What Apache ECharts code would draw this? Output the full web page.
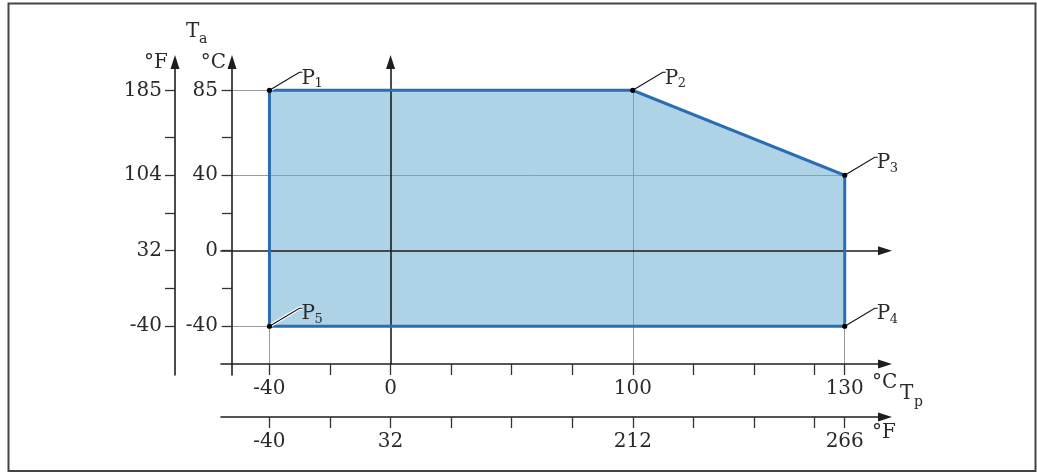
<!DOCTYPE html>
<html><head><meta charset="utf-8">
<script src="https://cdn.jsdelivr.net/npm/echarts@6/dist/echarts.min.js"></script>
<style>html,body{margin:0;padding:0;background:#fff}#c{width:1037px;height:473px}</style>
</head><body><div id="c"></div>
<script>
// ---- data ----
const pointNames = ['1', '2', '3', '4', '5'];
const pointTp = [-40, 100, 130, 130, -40];   // process temperature, °C
const pointTa = [85, 85, 40, -40, -40];      // ambient temperature, °C
const xLabelsC = [-40, 0, 100, 130];
const xLabelsF = [-40, 32, 212, 266];
const yLabelsC = [85, 40, 0, -40];
const yLabelsF = [185, 104, 32, -40];
const yMinorC = [60, 20, -20];
// schematic (not to scale) Tp axis: anchor temperatures and their slot positions
const axisAnchorsC = [-40, 0, 100, 130];
const axisAnchorsSlot = [-2, 0, 4, 7.5];
const xTickSlots = [-2, -1, 0, 1, 2, 3, 4, 5, 6, 7, 7.5];

// ---- helpers ----
function toSlot(c) {
  for (let i = 0; i < axisAnchorsC.length - 1; i++) {
    const a = axisAnchorsC[i], b = axisAnchorsC[i + 1];
    if (c <= b || i === axisAnchorsC.length - 2) {
      return axisAnchorsSlot[i] + (c - a) / (b - a) * (axisAnchorsSlot[i + 1] - axisAnchorsSlot[i]);
    }
  }
}
const cToF = c => c * 9 / 5 + 32;

const FONT = '"DejaVu Serif", serif';
const TXT = '#2a2a2a';
const AX = '#1e1e1e';
const X_MIN = -2.8, X_MAX = 8.165;
const Y_MIN = -60, Y_MAX = 100;
const Y_MIN_B = -65.83;

const xLabelSlots = xLabelsC.map(toSlot);
function labelFor(list) {
  return function (v) {
    for (let i = 0; i < xLabelSlots.length; i++) {
      if (Math.abs(xLabelSlots[i] - v) < 1e-6) return String(list[i]);
    }
    return '';
  };
}

const polyPts = pointTp.map((t, i) => [toSlot(t), pointTa[i]]);
const outline = polyPts.concat([polyPts[0]]);

const arrowLine = {
  show: true, onZero: false,
  symbol: ['none', 'triangle'], symbolSize: [9, 14],
  lineStyle: { color: AX, width: 1.6 }
};

const option = {
  animation: false,
  backgroundColor: '#fff',
  grid: [
    { left: 221, right: 152, top: 62, bottom: 109 },
    { left: 232, right: 152, top: 62, bottom: 98 }
  ],
  xAxis: [
    { // °C Tp axis
      type: 'value', gridIndex: 0, position: 'bottom', min: X_MIN, max: X_MAX, z: 3,
      axisLine: arrowLine,
      splitLine: { show: false },
      axisTick: { show: true, customValues: xTickSlots, length: 11, lineStyle: { color: '#333', width: 1.3 } },
      axisLabel: { show: true, customValues: xLabelSlots, formatter: labelFor(xLabelsC), margin: 15,
        fontFamily: FONT, fontSize: 20, color: TXT }
    },
    { // °F Tp axis
      type: 'value', gridIndex: 0, position: 'bottom', offset: 53, min: X_MIN, max: X_MAX, z: 3,
      axisLine: arrowLine,
      splitLine: { show: false },
      axisTick: { show: true, customValues: xTickSlots, length: 11, lineStyle: { color: '#333', width: 1.3 } },
      axisLabel: { show: true, customValues: xLabelSlots, formatter: labelFor(xLabelsF), margin: 15,
        fontFamily: FONT, fontSize: 20, color: TXT }
    },
    { // zero line of Ta
      type: 'value', gridIndex: 0, position: 'bottom', min: X_MIN, max: X_MAX, z: 3,
      axisLine: Object.assign({}, arrowLine, { onZero: true }),
      splitLine: { show: false }, axisTick: { show: false }, axisLabel: { show: false }
    },
    { type: 'value', gridIndex: 1, show: false, min: X_MIN, max: X_MAX }
  ],
  yAxis: [
    { // vertical line at Tp = 0
      type: 'value', gridIndex: 0, position: 'left', min: Y_MIN, max: Y_MAX, z: 3,
      axisLine: Object.assign({}, arrowLine, { onZero: true }),
      splitLine: { show: false }, axisTick: { show: false }, axisLabel: { show: false }
    },
    { // Ta °C
      type: 'value', gridIndex: 1, position: 'left', min: Y_MIN_B, max: Y_MAX, z: 3,
      axisLine: arrowLine,
      splitLine: { show: false },
      axisTick: { show: true, customValues: yLabelsC.concat(yMinorC), length: 10, lineStyle: { color: '#333', width: 1.3 } },
      axisLabel: { show: true, customValues: yLabelsC, margin: 14, fontFamily: FONT, fontSize: 20, color: TXT }
    },
    { // Ta °F
      type: 'value', gridIndex: 1, position: 'left', offset: 57, min: cToF(Y_MIN_B), max: cToF(Y_MAX), z: 3,
      axisLine: arrowLine,
      splitLine: { show: false },
      axisTick: { show: true, customValues: yLabelsF.concat(yMinorC.map(cToF)), length: 10, lineStyle: { color: '#333', width: 1.3 } },
      axisLabel: { show: true, customValues: yLabelsF, margin: 13, fontFamily: FONT, fontSize: 20, color: TXT }
    }
  ],
  series: [
    { // filled operating area
      type: 'custom', xAxisIndex: 0, yAxisIndex: 0, z: 1, silent: true,
      data: [[0, 0]],
      renderItem: function (params, api) {
        return {
          type: 'polygon',
          shape: { points: polyPts.map(p => api.coord(p)) },
          style: { fill: '#aed3e6', stroke: null }
        };
      }
    },
    { // thin gray reference lines
      type: 'lines', coordinateSystem: 'cartesian2d', xAxisIndex: 0, yAxisIndex: 0, z: 2, silent: true,
      lineStyle: { color: '#9a9a9a', width: 1, opacity: 1, type: 'solid' },
      data: [
        { coords: [[X_MIN, pointTa[0]], polyPts[0]] },
        { coords: [[X_MIN, pointTa[2]], polyPts[2]] },
        { coords: [[X_MIN, pointTa[4]], polyPts[4]] },
        { coords: [polyPts[1], [polyPts[1][0], Y_MIN]] },
        { coords: [polyPts[3], [polyPts[3][0], Y_MIN]] },
        { coords: [polyPts[4], [polyPts[4][0], Y_MIN]] }
      ]
    },
    { // outline
      type: 'line', xAxisIndex: 0, yAxisIndex: 0, z: 4, silent: true,
      data: outline, symbol: 'none',
      lineStyle: { color: '#2b6db3', width: 3, join: 'miter' }
    },
    { // corner points with leaders and labels
      type: 'custom', xAxisIndex: 0, yAxisIndex: 0, z: 5, silent: true,
      data: polyPts,
      renderItem: function (params, api) {
        const p = api.coord([api.value(0), api.value(1)]);
        const lead = [p, [p[0] + 30, p[1] - 18], [p[0] + 33, p[1] - 18]];
        return {
          type: 'group',
          children: [
            { type: 'polyline', shape: { points: lead }, style: { stroke: '#fff', lineWidth: 3.5, fill: null } },
            { type: 'polyline', shape: { points: lead }, style: { stroke: '#111', lineWidth: 1.1, fill: null } },
            { type: 'circle', shape: { cx: p[0], cy: p[1], r: 2.6 }, style: { fill: '#000' } },
            { type: 'text', x: p[0] + 32, y: p[1] - 12, style: { text: 'P', fontFamily: FONT, fontSize: 20, fill: TXT, align: 'left', verticalAlign: 'middle' } },
            { type: 'text', x: p[0] + 45, y: p[1] - 7, style: { text: pointNames[params.dataIndex], fontFamily: FONT, fontSize: 13, fill: TXT, align: 'left', verticalAlign: 'middle' } }
          ]
        };
      }
    }
  ],
  graphic: [
    { type: 'rect', shape: { x: 8.5, y: 3.5, width: 1027, height: 467.5 }, style: { fill: 'transparent', stroke: '#444', lineWidth: 2 }, silent: true },
    { type: 'text', x: 168, y: 63, style: { text: '°F', fontFamily: FONT, fontSize: 20, fill: TXT, align: 'right', verticalAlign: 'middle' } },
    { type: 'text', x: 226, y: 63, style: { text: '°C', fontFamily: FONT, fontSize: 20, fill: TXT, align: 'right', verticalAlign: 'middle' } },
    { type: 'text', x: 186, y: 32, style: { text: 'T', fontFamily: FONT, fontSize: 20, fill: TXT, align: 'left', verticalAlign: 'middle' } },
    { type: 'text', x: 199, y: 39, style: { text: 'a', fontFamily: FONT, fontSize: 14, fill: TXT, align: 'left', verticalAlign: 'middle' } },
    { type: 'text', x: 872, y: 383, style: { text: '°C', fontFamily: FONT, fontSize: 20, fill: TXT, align: 'left', verticalAlign: 'middle' } },
    { type: 'text', x: 900, y: 394, style: { text: 'T', fontFamily: FONT, fontSize: 20, fill: TXT, align: 'left', verticalAlign: 'middle' } },
    { type: 'text', x: 914, y: 402, style: { text: 'p', fontFamily: FONT, fontSize: 14, fill: TXT, align: 'left', verticalAlign: 'middle' } },
    { type: 'text', x: 872, y: 433, style: { text: '°F', fontFamily: FONT, fontSize: 20, fill: TXT, align: 'left', verticalAlign: 'middle' } }
  ]
};

const chart = echarts.init(document.getElementById('c'), null, { renderer: 'canvas' });
chart.setOption(option);
</script>
</body></html>
